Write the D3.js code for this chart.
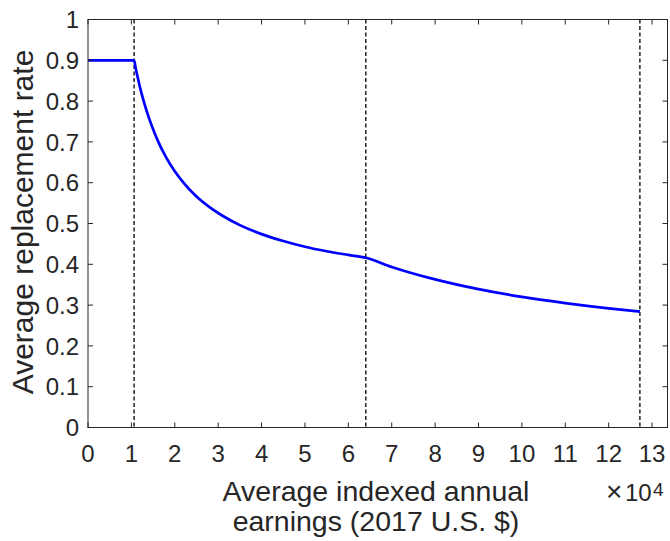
<!DOCTYPE html>
<html>
<head>
<meta charset="utf-8">
<script src="https://cdn.jsdelivr.net/npm/d3@7"></script>
<style>
  html, body { margin: 0; padding: 0; background: #fff; overflow: hidden; }
  svg { display: block; }
  text { font-family: "Liberation Sans", Arial, Helvetica, sans-serif; fill: #262626; }
</style>
</head>
<body>
<div id="chart"></div>
<script>
const width = 670;
const height = 541;
const margin = {top: 19.5, right: 2.5, bottom: 113.5, left: 88};

// average indexed annual earnings (2017 $) and average replacement rate
const earnings = [0, 10620, 11000, 11500, 12000, 13000, 14000, 15000, 16000, 18000, 20000, 22000,
    25000, 28000, 31000, 35000, 40000, 45000, 50000, 55000, 60000, 64032,
    70000, 80000, 90000, 100000, 110000, 120000, 127200];
const rate = [0.9, 0.9, 0.880, 0.856, 0.833, 0.794, 0.760, 0.731, 0.705, 0.662, 0.628, 0.600,
    0.566, 0.540, 0.519, 0.496, 0.474, 0.457, 0.443, 0.432, 0.423, 0.416,
    0.3935, 0.363, 0.339, 0.320, 0.305, 0.292, 0.284];
// bend points and taxable maximum
const bendPoints = [10620, 64032, 127200];
const xTicks = d3.range(0, 14);
const yTicks = d3.range(0, 11).map(d => d / 10);

const innerWidth = width - margin.left - margin.right;
const innerHeight = height - margin.top - margin.bottom;

const svg = d3.select('#chart')
    .append('svg')
    .attr('width', width)
    .attr('height', height);

const g = svg.append('g')
    .attr('transform', `translate(${margin.left},${margin.top})`);

const xScale = d3.scaleLinear().domain([0, 133560]).range([0, innerWidth]);
const yScale = d3.scaleLinear().domain([0, 1]).range([innerHeight, 0]);

const axisColor = '#262626';
const tickLen = 5;

// dashed lines at bend points
g.selectAll('.bend')
    .data(bendPoints)
    .enter().append('line')
    .attr('class', 'bend')
    .attr('x1', d => xScale(d))
    .attr('x2', d => xScale(d))
    .attr('y1', 0)
    .attr('y2', innerHeight)
    .attr('stroke', '#000')
    .attr('stroke-width', 1.3)
    .attr('stroke-dasharray', '4,2.5');

// replacement rate curve
const line = d3.line()
    .x((d, i) => xScale(earnings[i]))
    .y(d => yScale(d))
    .curve(d3.curveMonotoneX);

g.append('path')
    .datum(rate)
    .attr('d', line)
    .attr('fill', 'none')
    .attr('stroke', '#0000ff')
    .attr('stroke-width', 2.7);

// box
g.append('rect')
    .attr('x', 0)
    .attr('y', 0)
    .attr('width', innerWidth)
    .attr('height', innerHeight)
    .attr('fill', 'none')
    .attr('stroke', axisColor)
    .attr('stroke-width', 1);

// ticks (inward, mirrored)
xTicks.forEach(t => {
    const x = xScale(t * 1e4);
    g.append('line').attr('x1', x).attr('x2', x).attr('y1', innerHeight).attr('y2', innerHeight - tickLen)
        .attr('stroke', axisColor);
    g.append('line').attr('x1', x).attr('x2', x).attr('y1', 0).attr('y2', tickLen)
        .attr('stroke', axisColor);
    g.append('text')
        .attr('x', x)
        .attr('y', innerHeight + 34)
        .attr('text-anchor', 'middle')
        .attr('font-size', 24)
        .text(t);
});

yTicks.forEach(t => {
    const y = yScale(t);
    g.append('line').attr('x1', 0).attr('x2', tickLen).attr('y1', y).attr('y2', y)
        .attr('stroke', axisColor);
    g.append('line').attr('x1', innerWidth).attr('x2', innerWidth - tickLen).attr('y1', y).attr('y2', y)
        .attr('stroke', axisColor);
    g.append('text')
        .attr('x', -9)
        .attr('y', y)
        .attr('dy', '0.36em')
        .attr('text-anchor', 'end')
        .attr('font-size', 24)
        .text(t === 0 || t === 1 ? t : t.toFixed(1));
});

// axis labels
const xLabel = svg.append('text')
    .attr('x', 376)
    .attr('text-anchor', 'middle')
    .attr('font-size', 28.5);
xLabel.append('tspan').attr('x', 376).attr('y', 501).text('Average indexed annual');
xLabel.append('tspan').attr('x', 376).attr('y', 531).text('earnings (2017 U.S. $)');

svg.append('text')
    .attr('transform', 'translate(33,222) rotate(-90)')
    .attr('text-anchor', 'middle')
    .attr('font-size', 30)
    .text('Average replacement rate');

// exponent label
svg.append('text')
    .attr('x', 606)
    .attr('y', 501)
    .attr('font-size', 28)
    .text('\u00d7');
svg.append('text')
    .attr('x', 625)
    .attr('y', 500.5)
    .attr('font-size', 24)
    .text('10');
svg.append('text')
    .attr('x', 653)
    .attr('y', 495.5)
    .attr('font-size', 19)
    .text('4');
</script>
</body>
</html>
